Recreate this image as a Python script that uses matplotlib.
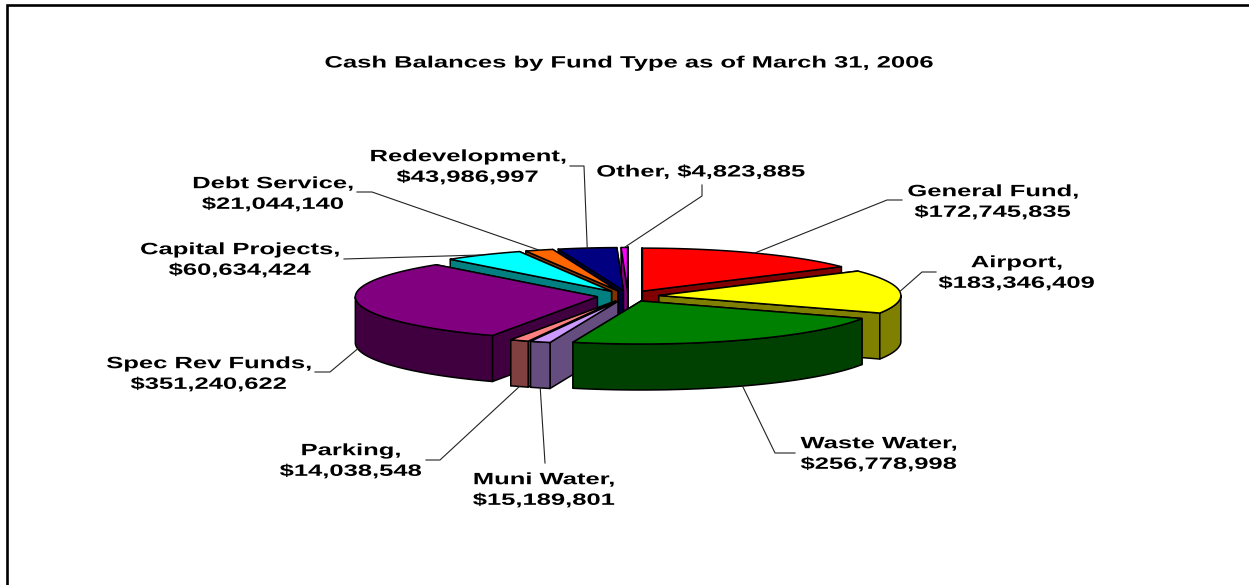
import numpy as np
import matplotlib
matplotlib.use("Agg")
import matplotlib.pyplot as plt
from matplotlib.patches import Polygon
from matplotlib.patheffects import AbstractPathEffect
from matplotlib.transforms import Affine2D

plt.rcParams["font.family"] = ["Liberation Sans", "DejaVu Sans"]

title = "Cash Balances by Fund Type as of March 31, 2006"

funds = ["General Fund", "Airport", "Waste Water", "Muni Water", "Parking",
         "Spec Rev Funds", "Capital Projects", "Debt Service", "Redevelopment", "Other"]
amounts = [172745835, 183346409, 256778998, 15189801, 14038548,
           351240622, 60634424, 21044140, 43986997, 4823885]

top_colors = ["#FF0000", "#FFFF00", "#008000", "#CC99FF", "#FF8080",
              "#800080", "#00FFFF", "#FF6600", "#000080", "#FF00FF"]
side_colors = ["#800000", "#808000", "#004000", "#664D80", "#804040",
               "#400040", "#008080", "#803300", "#000040", "#800080"]

# layout of the pie, in pixels of the picture
cx, cy = 628, 296
rx, ry = 242, 43
depth = 46
explode = 0.128
draw_order = [9, 8, 7, 6, 0, 5, 4, 3, 1, 2]

# label centre, then the leader's elbow and end
label_pos = [(993, 202), (1017, 273), (879, 454), (544, 490), (351, 461),
             (209, 374), (240, 260), (273, 194), (468, 167), (701, 172)]
leader_pts = [[(887, 200), (902, 200)], [(922, 272), (936, 272)], [(775, 453), (795, 453)],
              [(545, 463)], [(440, 460), (426, 460)], [(330, 372), (315, 372)],
              [(344, 259)], [(372, 192), (357, 192)], [(584, 166), (570, 166)],
              [(702, 196), (702, 185)]]

OUTLINE = 1.1
TEXT_WIDEN = 1.56


class WidenText(AbstractPathEffect):
    # the reference's type is stretched sideways, scale around the text's x
    def __init__(self, xc):
        super().__init__()
        self.xc = xc

    def draw_path(self, renderer, gc, tpath, affine, rgbFace=None):
        wide = Affine2D().translate(-self.xc, 0).scale(TEXT_WIDEN, 1).translate(self.xc, 0)
        renderer.draw_path(gc, tpath, affine + wide, rgbFace)


def wide_text(x, y, s, **kw):
    t = ax.text(x, y, s, ha="center", va="center", ma="center", fontsize=11.8,
                fontweight="bold", **kw)
    t.set_path_effects([WidenText(ax.transData.transform((x, y))[0])])
    return t


def arc(x0, y0, a1, a2, n=60):
    t = np.radians(np.linspace(a1, a2, n))
    return np.column_stack([x0 + rx * np.sin(t), y0 - ry * np.cos(t)])


fig = plt.figure(figsize=(12.49, 5.85), dpi=100)
ax = fig.add_axes([0, 0, 1, 1])
ax.set_xlim(0, 1249)
ax.set_ylim(585, 0)
ax.axis("off")

# chart frame, only left and top show
ax.plot([7, 7, 1249], [585, 5, 5], color="black", lw=1.9, solid_joinstyle="miter")

wide_text(628, 63, title)

edges = np.concatenate([[0], np.cumsum(amounts)]) / sum(amounts) * 360
z = 2
for i in draw_order:
    a1, a2 = edges[i], edges[i + 1]
    mid = np.radians((a1 + a2) / 2)
    x0 = cx + explode * rx * np.sin(mid)
    y0 = cy - explode * ry * np.cos(mid)
    side = dict(facecolor=side_colors[i], edgecolor="black", lw=OUTLINE, joinstyle="round")

    # cut faces, the one further back first
    faces = sorted([a1, a2], key=lambda a: -np.cos(np.radians(a)))
    for a in faces:
        end = arc(x0, y0, a, a, 1)[0]
        pts = [(x0, y0), end, (end[0], end[1] + depth), (x0, y0 + depth)]
        ax.add_patch(Polygon(pts, closed=True, zorder=z, **side))
        z += 1

    # outer wall, only the front half of the pie
    w1, w2 = max(a1, 90), min(a2, 270)
    if w2 > w1:
        rim = arc(x0, y0, w1, w2)
        low = rim[::-1] + [0, depth]
        ax.add_patch(Polygon(np.vstack([rim, low]), closed=True, zorder=z, **side))
        z += 1

    top = np.vstack([[(x0, y0)], arc(x0, y0, a1, a2)])
    ax.add_patch(Polygon(top, closed=True, facecolor=top_colors[i], edgecolor="black",
                         lw=OUTLINE, joinstyle="round", zorder=z))
    z += 1

for i, name in enumerate(funds):
    mid = (edges[i] + edges[i + 1]) / 2
    mid_r = np.radians(mid)
    x0 = cx + explode * rx * np.sin(mid_r)
    y0 = cy - explode * ry * np.cos(mid_r)
    start = arc(x0, y0, mid, mid, 1)[0]
    if 90 < mid < 270:
        start = start + [0, depth]
    path = [tuple(start)] + leader_pts[i]
    ax.plot([p[0] for p in path], [p[1] for p in path], color="#222222", lw=0.8, zorder=z + 1)

    sep = " " if name == "Other" else "\n"
    wide_text(label_pos[i][0], label_pos[i][1], f"{name},{sep}${amounts[i]:,}",
              linespacing=1.47, zorder=z + 2)

fig.savefig("out.png", dpi=100)
plt.close(fig)
